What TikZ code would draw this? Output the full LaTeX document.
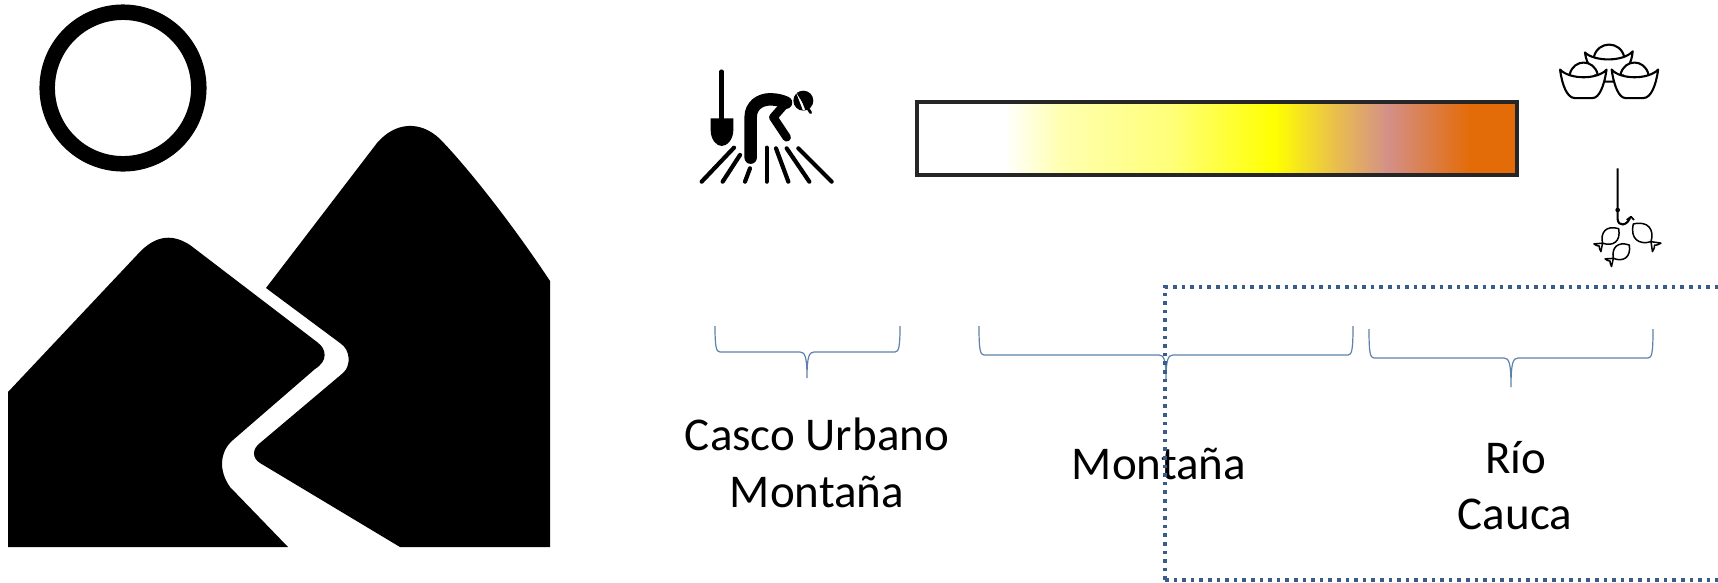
\documentclass[tikz,border=0pt]{standalone}
\usepackage{fontspec}
\setmainfont{Carlito}
\definecolor{barpale}{HTML}{FFFFB0}
\definecolor{barmid}{HTML}{FFFF78}
\definecolor{bargold}{HTML}{E8BC50}
\definecolor{barpink}{HTML}{D49088}
\definecolor{barorange}{HTML}{E36C09}
\definecolor{barborder}{HTML}{262626}
\definecolor{bracecol}{HTML}{5F82AC}
\definecolor{dotcol}{HTML}{3A5C88}
\pgfdeclarehorizontalshading{barshade}{100bp}{color(0bp)=(white);color(32.3bp)=(white);color(37bp)=(barpale);color(46.25bp)=(barmid);color(54.8bp)=(yellow);color(60.1bp)=(bargold);color(64.2bp)=(barpink);color(71bp)=(barorange);color(100bp)=(barorange)}
\newcommand\hbrace[6]{\draw[bracestyle] (#1,#3) .. controls (#1,#4-6) and (#1+1,#4) .. (#1+5,#4) -- (#5-7,#4) .. controls (#5-2,#4) and (#5,#4+5) .. (#5,#6) .. controls (#5,#4+5) and (#5+2,#4) .. (#5+7,#4) -- (#2-5,#4) .. controls (#2-1,#4) and (#2,#4-6) .. (#2,#3);}
\tikzset{
  bracestyle/.style={draw=bracecol,line width=1.2pt},
  labeltext/.style={anchor=base,font=\fontsize{47}{56}\selectfont,text=black,inner sep=0pt},
  raystyle/.style={line width=4.2pt,line cap=round},
  ingotstyle/.style={line width=2.1pt,line join=round,line cap=round,fill=white},
  fishline/.style={line width=1.5pt,line join=round,fill=white},
  fishy/.pic={\draw[fishline] (0,0) .. controls (8,-13) and (19,-11) .. (25,0) -- (33,-6) .. controls (32,-2) and (31,-1) .. (30,0) .. controls (31,1) and (32,2) .. (33,6) -- (25,0) .. controls (19,11) and (8,13) .. (0,0) -- cycle;}
}
\begin{document}
\begin{tikzpicture}[x=1pt,y=-1pt]
\useasboundingbox (0,0) rectangle (1718,582);
\clip (0,0) rectangle (1718,582);
\fill[white] (0,0) rectangle (1718,582);
% sun
\draw[line width=15.5pt] (123,88) circle[radius=75.8];
% mountains
\fill (8,547) -- (8,392) -- (137,255) .. controls (153,237) and (170,232) .. (190,245) -- (317,342) .. controls (327,349) and (328,361) .. (315,369) -- (233,440) .. controls (220,451) and (218,470) .. (230,487) -- (288,547) -- cycle;
\fill (266,288) -- (377,143) .. controls (395,122) and (420,120) .. (440,139) .. controls (470,170) and (515,228) .. (550,281) -- (550,547) -- (400,547) -- (260,463) .. controls (252,458) and (252,449) .. (260,443) -- (343,373) .. controls (351,366) and (351,350) .. (340,343) -- cycle;
% miner
\begin{scope}[shift={(690,60)},x=0.3333pt,y=-0.3333pt]
  \draw[line width=4.5pt,line cap=round] (95,35) -- (95,180);
  \fill (62,175) -- (130,175) -- (130,210) .. controls (130,240) and (110,258) .. (95,258) .. controls (80,258) and (62,240) .. (62,210) -- cycle;
  \draw[line width=12.5pt,line cap=round] (182,293) -- (182,172) .. controls (182,137) and (210,118) .. (240,118) .. controls (260,118) and (275,122) .. (288,128);
  \draw[line width=8.5pt,line cap=round,line join=round] (285,132) -- (250,172) -- (290,232);
  \fill (340,122) circle[radius=30];
  \draw[white,line width=2.2pt] (322,98) -- (342,150);
  \draw[line width=2.8pt,line cap=round] (325,100) -- (362,158);
  \draw[raystyle] (132,263) -- (35,365);
  \draw[raystyle] (150,285) -- (98,365);
  \draw[raystyle] (180,325) -- (165,365);
  \draw[raystyle] (230,263) -- (230,365);
  \draw[raystyle] (258,265) -- (295,365);
  \draw[raystyle] (290,265) -- (358,365);
  \draw[raystyle] (325,265) -- (425,365);
\end{scope}
% gold
\begin{scope}[shift={(1544.3,28.7)},x=0.254pt,y=-0.365pt]
  \draw[ingotstyle] (195,78) .. controls (210,32) and (300,32) .. (315,78);
  \draw[ingotstyle] (160,65) .. controls (195,90) and (310,92) .. (348,62) .. controls (345,90) and (325,125) .. (270,145) -- (240,145) .. controls (190,125) and (165,95) .. (160,65) -- cycle;
  \draw[ingotstyle] (100,125) .. controls (115,82) and (195,82) .. (210,125);
  \draw[ingotstyle] (300,125) .. controls (315,82) and (395,82) .. (410,125);
  \draw[ingotstyle] (62,112) .. controls (100,140) and (210,140) .. (245,112) .. controls (235,160) and (215,190) .. (190,190) -- (120,190) .. controls (90,190) and (70,155) .. (62,112) -- cycle;
  \draw[ingotstyle] (265,112) .. controls (300,140) and (410,140) .. (448,112) .. controls (440,155) and (420,190) .. (390,190) -- (320,190) .. controls (295,190) and (275,160) .. (265,112) -- cycle;
\end{scope}
% hook and fish
\begin{scope}[shift={(1570,160)},x=0.3333pt,y=-0.3333pt]
  \draw[line width=2.1pt] (143,25) -- (143,178) .. controls (145,200) and (170,198) .. (180,174);
  \fill (143,150) circle[radius=7];
  \draw[line width=1.7pt,line join=round] (170,180) -- (183,170) -- (192,180);
  \path (146,206) pic[rotate=222,scale=2.6] {fishy};
  \path (190,192) pic[rotate=-45,scale=3] {fishy};
  \path (178,255) pic[rotate=220,scale=2.5] {fishy};
\end{scope}
% bar
\path[shading=barshade] (917,102) rectangle (1517,175);
\draw[barborder,line width=4pt] (917,102) rectangle (1517,175);
% braces
\hbrace{715}{900}{326}{352}{807}{378}
\hbrace{979}{1353}{326}{355}{1166}{380}
\hbrace{1369}{1653}{329}{358}{1511}{387}
% labels
\node[labeltext] (casco) at (817,450) {Casco Urbano};
\node[labeltext] (montanaA) at (817,507) {Montaña};
\node[labeltext] (montanaB) at (1159,479) {Montaña};
\node[labeltext] (rio) at (1516,473) {Río};
\node[labeltext] (cauca) at (1515,529) {Cauca};
% dotted frame
\draw[dotcol,line width=3.6pt,dash pattern=on 3.6pt off 5pt] (1165,580) -- (1165,287) -- (1730,287);
\draw[dotcol,line width=3.6pt,dash pattern=on 3.6pt off 5pt] (1165,580) -- (1730,580);
\end{tikzpicture}
\end{document}
